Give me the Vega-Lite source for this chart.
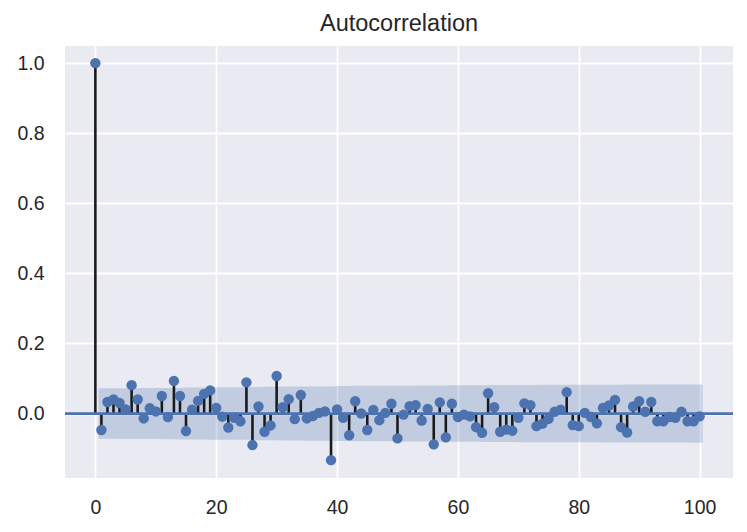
{
  "$schema": "https://vega.github.io/schema/vega-lite/v6.json",
  "width": 668,
  "height": 432,
  "autosize": {"type": "none"},
  "padding": {"left": 65, "top": 46, "right": 14, "bottom": 54},
  "background": "white",
  "title": {"text": "Autocorrelation", "font": "Liberation Sans", "fontSize": 23.5, "fontWeight": "normal", "color": "#262626", "baseline": "alphabetic", "offset": -8, "anchor": "middle"},
  "config": {
    "view": {"fill": "#EAEAF2", "stroke": null},
    "axis": {"domain": false, "ticks": false, "grid": true, "gridColor": "#FFFFFF", "gridWidth": 1.8, "gridOpacity": 1, "labelFont": "Liberation Sans", "labelFontSize": 19.5, "labelColor": "#262626", "title": null}
  },
  "datasets": {
    "acf": [
      {"lag": 0, "acf": 1.0}, {"lag": 1, "acf": -0.047}, {"lag": 2, "acf": 0.033}, {"lag": 3, "acf": 0.040}, {"lag": 4, "acf": 0.030},
      {"lag": 5, "acf": 0.012}, {"lag": 6, "acf": 0.081}, {"lag": 7, "acf": 0.040}, {"lag": 8, "acf": -0.014}, {"lag": 9, "acf": 0.015},
      {"lag": 10, "acf": 0.006}, {"lag": 11, "acf": 0.050}, {"lag": 12, "acf": -0.010}, {"lag": 13, "acf": 0.093}, {"lag": 14, "acf": 0.050},
      {"lag": 15, "acf": -0.050}, {"lag": 16, "acf": 0.011}, {"lag": 17, "acf": 0.036}, {"lag": 18, "acf": 0.056}, {"lag": 19, "acf": 0.066},
      {"lag": 20, "acf": 0.016}, {"lag": 21, "acf": -0.009}, {"lag": 22, "acf": -0.040}, {"lag": 23, "acf": -0.012}, {"lag": 24, "acf": -0.022},
      {"lag": 25, "acf": 0.089}, {"lag": 26, "acf": -0.090}, {"lag": 27, "acf": 0.020}, {"lag": 28, "acf": -0.052}, {"lag": 29, "acf": -0.034},
      {"lag": 30, "acf": 0.107}, {"lag": 31, "acf": 0.018}, {"lag": 32, "acf": 0.041}, {"lag": 33, "acf": -0.016}, {"lag": 34, "acf": 0.053},
      {"lag": 35, "acf": -0.014}, {"lag": 36, "acf": -0.007}, {"lag": 37, "acf": 0.002}, {"lag": 38, "acf": 0.006}, {"lag": 39, "acf": -0.133},
      {"lag": 40, "acf": 0.012}, {"lag": 41, "acf": -0.012}, {"lag": 42, "acf": -0.062}, {"lag": 43, "acf": 0.035}, {"lag": 44, "acf": 0.000},
      {"lag": 45, "acf": -0.047}, {"lag": 46, "acf": 0.010}, {"lag": 47, "acf": -0.019}, {"lag": 48, "acf": 0.002}, {"lag": 49, "acf": 0.028},
      {"lag": 50, "acf": -0.071}, {"lag": 51, "acf": -0.003}, {"lag": 52, "acf": 0.021}, {"lag": 53, "acf": 0.024}, {"lag": 54, "acf": -0.020},
      {"lag": 55, "acf": 0.013}, {"lag": 56, "acf": -0.088}, {"lag": 57, "acf": 0.032}, {"lag": 58, "acf": -0.068}, {"lag": 59, "acf": 0.028},
      {"lag": 60, "acf": -0.010}, {"lag": 61, "acf": -0.003}, {"lag": 62, "acf": -0.008}, {"lag": 63, "acf": -0.039}, {"lag": 64, "acf": -0.055},
      {"lag": 65, "acf": 0.058}, {"lag": 66, "acf": 0.018}, {"lag": 67, "acf": -0.052}, {"lag": 68, "acf": -0.046}, {"lag": 69, "acf": -0.049},
      {"lag": 70, "acf": -0.012}, {"lag": 71, "acf": 0.029}, {"lag": 72, "acf": 0.024}, {"lag": 73, "acf": -0.036}, {"lag": 74, "acf": -0.029},
      {"lag": 75, "acf": -0.015}, {"lag": 76, "acf": 0.005}, {"lag": 77, "acf": 0.011}, {"lag": 78, "acf": 0.061}, {"lag": 79, "acf": -0.033},
      {"lag": 80, "acf": -0.036}, {"lag": 81, "acf": 0.002}, {"lag": 82, "acf": -0.010}, {"lag": 83, "acf": -0.028}, {"lag": 84, "acf": 0.016},
      {"lag": 85, "acf": 0.023}, {"lag": 86, "acf": 0.039}, {"lag": 87, "acf": -0.039}, {"lag": 88, "acf": -0.054}, {"lag": 89, "acf": 0.020},
      {"lag": 90, "acf": 0.035}, {"lag": 91, "acf": 0.005}, {"lag": 92, "acf": 0.033}, {"lag": 93, "acf": -0.022}, {"lag": 94, "acf": -0.022},
      {"lag": 95, "acf": -0.010}, {"lag": 96, "acf": -0.012}, {"lag": 97, "acf": 0.005}, {"lag": 98, "acf": -0.022}, {"lag": 99, "acf": -0.022},
      {"lag": 100, "acf": -0.008}
    ],
    "band": [
      {"lag": 0.5, "lo": -0.0720, "hi": 0.0720}, {"lag": 2, "lo": -0.0722, "hi": 0.0722}, {"lag": 3, "lo": -0.0722, "hi": 0.0722},
      {"lag": 4, "lo": -0.0724, "hi": 0.0724}, {"lag": 5, "lo": -0.0724, "hi": 0.0724}, {"lag": 6, "lo": -0.0724, "hi": 0.0724},
      {"lag": 7, "lo": -0.0729, "hi": 0.0729}, {"lag": 8, "lo": -0.0730, "hi": 0.0730}, {"lag": 9, "lo": -0.0730, "hi": 0.0730},
      {"lag": 10, "lo": -0.0730, "hi": 0.0730}, {"lag": 11, "lo": -0.0730, "hi": 0.0730}, {"lag": 12, "lo": -0.0732, "hi": 0.0732},
      {"lag": 13, "lo": -0.0732, "hi": 0.0732}, {"lag": 14, "lo": -0.0738, "hi": 0.0738}, {"lag": 15, "lo": -0.0740, "hi": 0.0740},
      {"lag": 16, "lo": -0.0742, "hi": 0.0742}, {"lag": 17, "lo": -0.0742, "hi": 0.0742}, {"lag": 18, "lo": -0.0743, "hi": 0.0743},
      {"lag": 19, "lo": -0.0745, "hi": 0.0745}, {"lag": 20, "lo": -0.0748, "hi": 0.0748}, {"lag": 21, "lo": -0.0748, "hi": 0.0748},
      {"lag": 22, "lo": -0.0748, "hi": 0.0748}, {"lag": 23, "lo": -0.0749, "hi": 0.0749}, {"lag": 24, "lo": -0.0749, "hi": 0.0749},
      {"lag": 25, "lo": -0.0749, "hi": 0.0749}, {"lag": 26, "lo": -0.0755, "hi": 0.0755}, {"lag": 27, "lo": -0.0760, "hi": 0.0760},
      {"lag": 28, "lo": -0.0761, "hi": 0.0761}, {"lag": 29, "lo": -0.0763, "hi": 0.0763}, {"lag": 30, "lo": -0.0763, "hi": 0.0763},
      {"lag": 31, "lo": -0.0771, "hi": 0.0771}, {"lag": 32, "lo": -0.0771, "hi": 0.0771}, {"lag": 33, "lo": -0.0772, "hi": 0.0772},
      {"lag": 34, "lo": -0.0773, "hi": 0.0773}, {"lag": 35, "lo": -0.0774, "hi": 0.0774}, {"lag": 36, "lo": -0.0774, "hi": 0.0774},
      {"lag": 37, "lo": -0.0774, "hi": 0.0774}, {"lag": 38, "lo": -0.0774, "hi": 0.0774}, {"lag": 39, "lo": -0.0774, "hi": 0.0774},
      {"lag": 40, "lo": -0.0787, "hi": 0.0787}, {"lag": 41, "lo": -0.0787, "hi": 0.0787}, {"lag": 42, "lo": -0.0787, "hi": 0.0787},
      {"lag": 43, "lo": -0.0790, "hi": 0.0790}, {"lag": 44, "lo": -0.0790, "hi": 0.0790}, {"lag": 45, "lo": -0.0790, "hi": 0.0790},
      {"lag": 46, "lo": -0.0792, "hi": 0.0792}, {"lag": 47, "lo": -0.0792, "hi": 0.0792}, {"lag": 48, "lo": -0.0792, "hi": 0.0792},
      {"lag": 49, "lo": -0.0792, "hi": 0.0792}, {"lag": 50, "lo": -0.0793, "hi": 0.0793}, {"lag": 51, "lo": -0.0796, "hi": 0.0796},
      {"lag": 52, "lo": -0.0796, "hi": 0.0796}, {"lag": 53, "lo": -0.0796, "hi": 0.0796}, {"lag": 54, "lo": -0.0797, "hi": 0.0797},
      {"lag": 55, "lo": -0.0797, "hi": 0.0797}, {"lag": 56, "lo": -0.0797, "hi": 0.0797}, {"lag": 57, "lo": -0.0802, "hi": 0.0802},
      {"lag": 58, "lo": -0.0803, "hi": 0.0803}, {"lag": 59, "lo": -0.0806, "hi": 0.0806}, {"lag": 60, "lo": -0.0806, "hi": 0.0806},
      {"lag": 61, "lo": -0.0806, "hi": 0.0806}, {"lag": 62, "lo": -0.0806, "hi": 0.0806}, {"lag": 63, "lo": -0.0806, "hi": 0.0806},
      {"lag": 64, "lo": -0.0808, "hi": 0.0808}, {"lag": 65, "lo": -0.0810, "hi": 0.0810}, {"lag": 66, "lo": -0.0812, "hi": 0.0812},
      {"lag": 67, "lo": -0.0812, "hi": 0.0812}, {"lag": 68, "lo": -0.0814, "hi": 0.0814}, {"lag": 69, "lo": -0.0815, "hi": 0.0815},
      {"lag": 70, "lo": -0.0817, "hi": 0.0817}, {"lag": 71, "lo": -0.0817, "hi": 0.0817}, {"lag": 72, "lo": -0.0817, "hi": 0.0817},
      {"lag": 73, "lo": -0.0817, "hi": 0.0817}, {"lag": 74, "lo": -0.0818, "hi": 0.0818}, {"lag": 75, "lo": -0.0819, "hi": 0.0819},
      {"lag": 76, "lo": -0.0819, "hi": 0.0819}, {"lag": 77, "lo": -0.0819, "hi": 0.0819}, {"lag": 78, "lo": -0.0819, "hi": 0.0819},
      {"lag": 79, "lo": -0.0822, "hi": 0.0822}, {"lag": 80, "lo": -0.0822, "hi": 0.0822}, {"lag": 81, "lo": -0.0823, "hi": 0.0823},
      {"lag": 82, "lo": -0.0823, "hi": 0.0823}, {"lag": 83, "lo": -0.0823, "hi": 0.0823}, {"lag": 84, "lo": -0.0824, "hi": 0.0824},
      {"lag": 85, "lo": -0.0824, "hi": 0.0824}, {"lag": 86, "lo": -0.0824, "hi": 0.0824}, {"lag": 87, "lo": -0.0825, "hi": 0.0825},
      {"lag": 88, "lo": -0.0826, "hi": 0.0826}, {"lag": 89, "lo": -0.0828, "hi": 0.0828}, {"lag": 90, "lo": -0.0828, "hi": 0.0828},
      {"lag": 91, "lo": -0.0829, "hi": 0.0829}, {"lag": 92, "lo": -0.0829, "hi": 0.0829}, {"lag": 93, "lo": -0.0830, "hi": 0.0830},
      {"lag": 94, "lo": -0.0830, "hi": 0.0830}, {"lag": 95, "lo": -0.0830, "hi": 0.0830}, {"lag": 96, "lo": -0.0830, "hi": 0.0830},
      {"lag": 97, "lo": -0.0830, "hi": 0.0830}, {"lag": 98, "lo": -0.0830, "hi": 0.0830}, {"lag": 99, "lo": -0.0831, "hi": 0.0831},
      {"lag": 100.5, "lo": -0.0831, "hi": 0.0831}
    ]
  },
  "layer": [
    {
      "data": {"name": "band"},
      "mark": {"type": "area", "color": "#4C72B0", "opacity": 0.25},
      "encoding": {
        "x": {"field": "lag", "type": "quantitative", "scale": {"domain": [-5.025, 105.525], "nice": false, "zero": false}, "axis": {"values": [0, 20, 40, 60, 80, 100], "labelPadding": 20}},
        "y": {"field": "lo", "type": "quantitative", "scale": {"domain": [-0.184, 1.049], "nice": false, "zero": false}, "axis": {"values": [0, 0.2, 0.4, 0.6, 0.8, 1.0], "format": ".1f", "labelPadding": 21}},
        "y2": {"field": "hi"}
      }
    },
    {
      "data": {"name": "acf"},
      "mark": {"type": "rule", "color": "#1a1a1a", "strokeWidth": 2.6},
      "encoding": {
        "x": {"field": "lag", "type": "quantitative"},
        "y": {"field": "acf", "type": "quantitative"},
        "y2": {"datum": 0}
      }
    },
    {
      "data": {"values": [{"zero": 0}]},
      "mark": {"type": "rule", "color": "#4C72B0", "strokeWidth": 2.7},
      "encoding": {"y": {"field": "zero", "type": "quantitative"}}
    },
    {
      "data": {"name": "acf"},
      "mark": {"type": "point", "filled": true, "size": 108, "color": "#4C72B0", "opacity": 1},
      "encoding": {
        "x": {"field": "lag", "type": "quantitative"},
        "y": {"field": "acf", "type": "quantitative"}
      }
    }
  ]
}
